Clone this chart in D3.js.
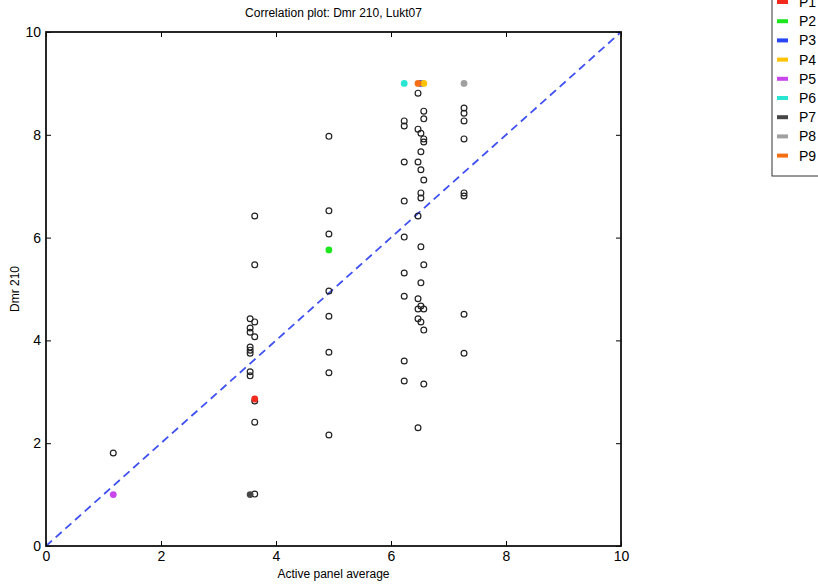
<!DOCTYPE html>
<html>
<head>
<meta charset="utf-8">
<script src="https://cdn.jsdelivr.net/npm/d3@7"></script>
<style>
  body { margin: 0; background: #fff; }
  svg { display: block; font-family: "Liberation Sans", Arial, sans-serif; }
</style>
</head>
<body>
<svg id="chart" width="818" height="584"></svg>
<script>
// open markers: all samples
var openX = [1.17, 3.63, 3.63, 3.55, 3.63, 3.55, 3.55, 3.63, 3.55, 3.55, 3.55, 3.55, 3.55, 3.63, 3.63, 3.63,
             4.92, 4.92, 4.92, 4.92, 4.92, 4.92, 4.92, 4.92,
             6.23, 6.23, 6.23, 6.23, 6.23, 6.23, 6.23, 6.23, 6.23,
             6.47, 6.47, 6.47, 6.47, 6.47, 6.47, 6.47, 6.47,
             6.52, 6.52, 6.52, 6.52, 6.52, 6.52, 6.52, 6.52, 6.52,
             6.57, 6.57, 6.57, 6.57, 6.57, 6.57, 6.57, 6.57, 6.57,
             7.27, 7.27, 7.27, 7.27, 7.27, 7.27, 7.27, 7.27];
var openY = [1.81, 6.42, 5.47, 4.42, 4.36, 4.24, 4.16, 4.07, 3.87, 3.81, 3.75, 3.39, 3.31, 2.82, 2.41, 1.01,
             7.97, 6.52, 6.07, 4.96, 4.47, 3.77, 3.37, 2.16,
             8.27, 8.17, 7.47, 6.71, 6.01, 5.31, 4.86, 3.60, 3.21,
             8.81, 8.11, 7.47, 6.42, 4.81, 4.61, 4.42, 2.30,
             8.03, 7.67, 7.32, 6.87, 6.77, 5.82, 5.12, 4.67, 4.36,
             8.46, 8.31, 7.92, 7.86, 7.12, 5.47, 4.61, 4.20, 3.15,
             8.52, 8.42, 8.27, 7.92, 6.87, 6.81, 4.51, 3.75];

// panelists
var panels = ['P1', 'P2', 'P3', 'P4', 'P5', 'P6', 'P7', 'P8', 'P9'];
var panelX = [3.63, 4.92, 6.52, 6.57, 1.17, 6.23, 3.55, 7.27, 6.47];
var panelY = [2.86, 5.76, 9.0, 9.0, 1.0, 9.0, 1.0, 9.0, 9.0];
var panelColors = ['#f52a1e', '#1ee61e', '#2846f5', '#ffc200', '#c846eb', '#28e6d2', '#464646', '#a0a0a0', '#f56e14'];

var xTicks = [0, 2, 4, 6, 8, 10];
var yTicks = [0, 2, 4, 6, 8, 10];

var svg = d3.select('#chart');
var pLeft = 46, pTop = 32, pRight = 621, pBottom = 546;

var x = d3.scaleLinear().domain([0, 10]).range([pLeft, pRight]);
var y = d3.scaleLinear().domain([0, 10]).range([pBottom, pTop]);

var plot = svg.append('g');

// diagonal reference line
plot.append('line')
    .attr('x1', x(0)).attr('y1', y(0))
    .attr('x2', x(10)).attr('y2', y(10))
    .attr('stroke', '#3f50f2')
    .attr('stroke-width', 1.8)
    .attr('stroke-dasharray', '8,5');

var openData = openX.map(function(v, i) { return { x: v, y: openY[i] }; });
plot.selectAll('circle.open')
    .data(openData)
  .enter().append('circle')
    .attr('class', 'open')
    .attr('cx', function(d) { return x(d.x); })
    .attr('cy', function(d) { return y(d.y); })
    .attr('r', 2.9)
    .attr('fill', 'none')
    .attr('stroke', '#222')
    .attr('stroke-width', 1.2);

var panelData = panels.map(function(p, i) { return { name: p, x: panelX[i], y: panelY[i], c: panelColors[i] }; });
plot.selectAll('circle.panel')
    .data(panelData)
  .enter().append('circle')
    .attr('class', 'panel')
    .attr('cx', function(d) { return x(d.x); })
    .attr('cy', function(d) { return y(d.y); })
    .attr('r', 3.4)
    .attr('fill', function(d) { return d.c; });

// axes (ticks point inward)
var axisStyle = function(g) {
  g.select('.domain').remove();
  g.selectAll('.tick line').attr('stroke', '#000');
  g.selectAll('.tick text').attr('font-size', 14).attr('fill', '#000')
    .attr('font-family', '"Liberation Sans", Arial, sans-serif');
};
svg.append('g').attr('transform', 'translate(0,' + pBottom + ')')
   .call(d3.axisBottom(x).tickValues(xTicks).tickSizeInner(-5).tickSizeOuter(0).tickPadding(5))
   .call(axisStyle);
svg.append('g').attr('transform', 'translate(0,' + pTop + ')')
   .call(d3.axisTop(x).tickValues(xTicks).tickSizeInner(-5).tickSizeOuter(0).tickFormat(''))
   .call(axisStyle);
svg.append('g').attr('transform', 'translate(' + pLeft + ',0)')
   .call(d3.axisLeft(y).tickValues(yTicks).tickSizeInner(-5).tickSizeOuter(0).tickPadding(5))
   .call(axisStyle);
svg.append('g').attr('transform', 'translate(' + pRight + ',0)')
   .call(d3.axisRight(y).tickValues(yTicks).tickSizeInner(-5).tickSizeOuter(0).tickFormat(''))
   .call(axisStyle);

// frame
svg.append('rect')
   .attr('x', pLeft).attr('y', pTop)
   .attr('width', pRight - pLeft).attr('height', pBottom - pTop)
   .attr('fill', 'none').attr('stroke', '#111').attr('stroke-width', 1.8);

// titles
svg.append('text')
   .attr('x', (pLeft + pRight) / 2).attr('y', 17)
   .attr('text-anchor', 'middle').attr('font-size', 12)
   .text('Correlation plot: Dmr 210, Lukt07');
svg.append('text')
   .attr('x', (pLeft + pRight) / 2).attr('y', 578)
   .attr('text-anchor', 'middle').attr('font-size', 12)
   .text('Active panel average');
svg.append('text')
   .attr('transform', 'translate(19,' + ((pTop + pBottom) / 2) + ') rotate(-90)')
   .attr('text-anchor', 'middle').attr('font-size', 12)
   .text('Dmr 210');

// legend
var legend = svg.append('g');
legend.append('rect')
   .attr('x', 772).attr('y', -10).attr('width', 70).attr('height', 186)
   .attr('fill', '#fff').attr('stroke', '#333').attr('stroke-width', 1);
var item = legend.selectAll('g.item')
   .data(panelData)
  .enter().append('g')
   .attr('class', 'item')
   .attr('transform', function(d, i) { return 'translate(0,' + (2 + i * 19.2) + ')'; });
item.append('line')
   .attr('x1', 777).attr('x2', 788).attr('y1', 0).attr('y2', 0)
   .attr('stroke', function(d) { return d.c; }).attr('stroke-width', 4);
item.append('text')
   .attr('x', 799).attr('y', 5)
   .attr('font-size', 14)
   .text(function(d) { return d.name; });
</script>
</body>
</html>
